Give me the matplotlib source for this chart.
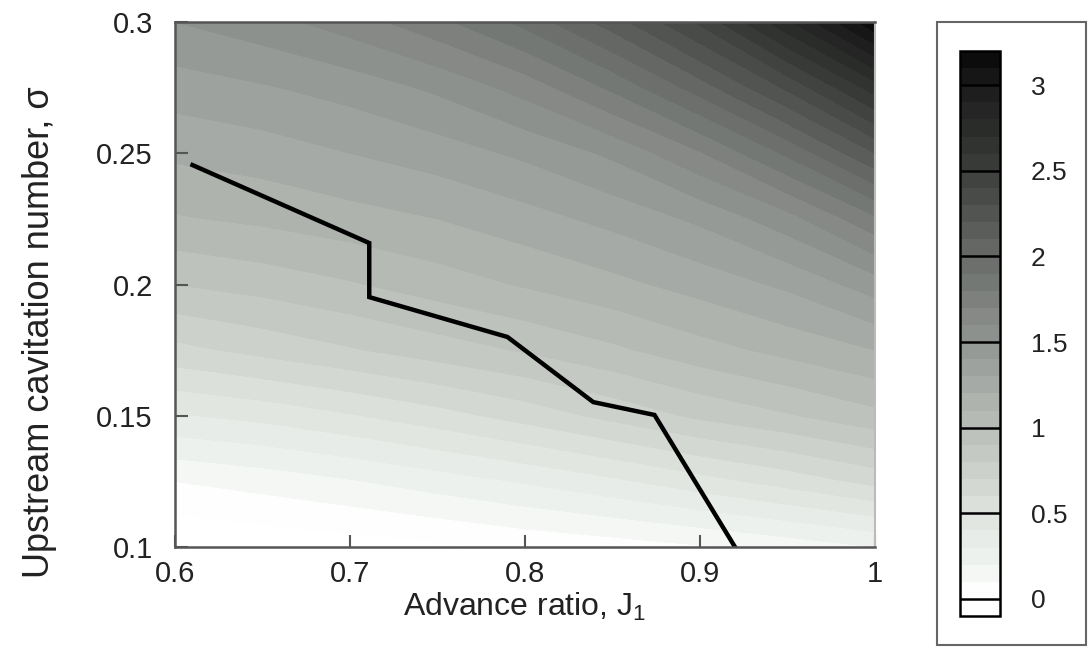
import numpy as np
import matplotlib
matplotlib.use("Agg")
import matplotlib.pyplot as plt
from matplotlib.colors import LinearSegmentedColormap
from matplotlib.patches import Rectangle

plt.rcParams['font.family'] = ['Liberation Sans', 'DejaVu Sans']
plt.rcParams['mathtext.fontset'] = 'custom'
plt.rcParams['mathtext.rm'] = 'Liberation Sans'

# ---- data ----
J_grid = [0.6, 0.65, 0.7, 0.75, 0.8, 0.85, 0.9, 0.95, 1.0]
sigma_grid = [0.1, 0.125, 0.15, 0.175, 0.2, 0.225, 0.25, 0.275, 0.3]
# rows: sigma, columns: J
Z_rows = [
    [-0.10, -0.07, -0.05, -0.02, 0.02, 0.05, 0.09, 0.14, 0.20],
    [0.10, 0.14, 0.19, 0.25, 0.31, 0.38, 0.46, 0.54, 0.63],
    [0.39, 0.43, 0.49, 0.56, 0.64, 0.73, 0.82, 0.89, 0.97],
    [0.67, 0.73, 0.79, 0.85, 0.91, 0.98, 1.06, 1.13, 1.20],
    [0.90, 0.94, 0.99, 1.05, 1.11, 1.17, 1.24, 1.32, 1.45],
    [1.09, 1.12, 1.16, 1.20, 1.26, 1.33, 1.42, 1.56, 1.78],
    [1.22, 1.25, 1.30, 1.35, 1.42, 1.52, 1.69, 1.92, 2.20],
    [1.35, 1.39, 1.44, 1.52, 1.64, 1.82, 2.05, 2.32, 2.65],
    [1.50, 1.56, 1.65, 1.77, 1.93, 2.15, 2.42, 2.78, 3.18],
]
line_J = [0.61, 0.711, 0.711, 0.79, 0.839, 0.874, 0.92]
line_sigma = [0.2455, 0.2158, 0.1952, 0.18, 0.1552, 0.1503, 0.1]
xticks = [0.6, 0.7, 0.8, 0.9, 1.0]
xtick_labels = ['0.6', '0.7', '0.8', '0.9', '1']
yticks = [0.1, 0.15, 0.2, 0.25, 0.3]
ytick_labels = ['0.1', '0.15', '0.2', '0.25', '0.3']
cbar_ticks = [0, 0.5, 1, 1.5, 2, 2.5, 3]
cbar_labels = ['0', '0.5', '1', '1.5', '2', '2.5', '3']

# ---- colormap (greyscale with slight green tint) ----
vmin, vmax = -0.1, 3.2
nodes = [-0.1, 0.1, 0.15, 0.5, 1.0, 1.5, 2.0, 2.5, 3.0, 3.2]
greys = [255, 254, 243, 222, 185, 146, 104, 60, 26, 8]
gtint = [0, 0, 3, 5, 5, 4, 3, 2, 1, 0]
cols = []
for v, g, t in zip(nodes, greys, gtint):
    cols.append(((v - vmin) / (vmax - vmin),
                 (g / 255, min(255, g + t) / 255, g / 255)))
cmap = LinearSegmentedColormap.from_list('gr', cols)
levels = np.round(np.arange(-0.1, 3.2001, 0.1), 2)

fig = plt.figure(figsize=(10.89, 6.48), dpi=100)

# legend frame (drawn behind everything)
fig.add_artist(Rectangle((937 / 1089, 1 - 645 / 648), 149 / 1089, 623 / 648,
                         transform=fig.transFigure, facecolor='white',
                         edgecolor='#666666', lw=1.5, zorder=-10))

ax = fig.add_axes([175 / 1089, 1 - 547 / 648, 700 / 1089, 525 / 648])

Jm, Sm = np.meshgrid(J_grid, sigma_grid)
Z = np.array(Z_rows)
cs = ax.contourf(Jm, Sm, Z, levels=levels, cmap=cmap, vmin=vmin, vmax=vmax)
ax.plot(line_J, line_sigma, color='black', lw=3.2, solid_joinstyle='miter')

ax.set_xlim(0.6, 1.0)
ax.set_ylim(0.1, 0.3)
ax.set_xticks(xticks)
ax.set_xticklabels(xtick_labels)
ax.set_yticks(yticks)
ax.set_yticklabels(ytick_labels)
ax.tick_params(direction='in', length=9, width=1.5, color='#555555',
               labelsize=21, labelcolor='#222222')
ax.tick_params(axis='x', pad=9)
ax.tick_params(axis='y', pad=16)
for s in ['left', 'bottom', 'top']:
    ax.spines[s].set_color('#555555')
    ax.spines[s].set_linewidth(1.8)
ax.spines['right'].set_color('#bbbbbb')
ax.spines['right'].set_linewidth(1.5)
ax.set_xlabel('Advance ratio, J$_\\mathrm{1}$', fontsize=23, color='#222222', labelpad=2)
ax.set_ylabel('Upstream cavitation number, \u03c3', fontsize=26, color='#222222')
ax.yaxis.set_label_coords(-0.168, 0.41)

cax = fig.add_axes([960 / 1089, 1 - 616 / 648, 40 / 1089, 565 / 648])
cb = fig.colorbar(cs, cax=cax, ticks=cbar_ticks)
cb.outline.set_edgecolor('black')
cb.outline.set_linewidth(1.8)
cax.set_yticklabels(cbar_labels)
cax.tick_params(length=0, labelsize=19, labelcolor='#222222', pad=22)
for t in cbar_ticks:
    cax.axhline(t, color='black', lw=1.8)

fig.savefig('out.png', dpi=100)
